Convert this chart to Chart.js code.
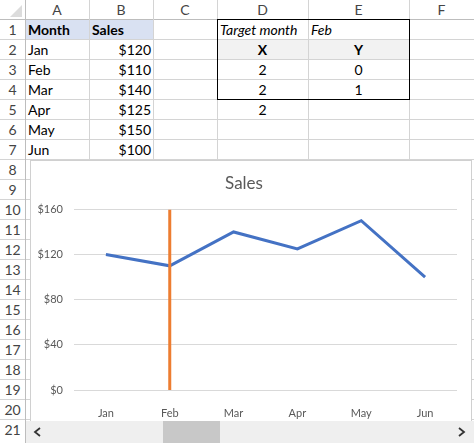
<!DOCTYPE html>
<html>
<head>
<meta charset="utf-8">
<script src="https://cdn.jsdelivr.net/npm/chart.js@4/dist/chart.umd.min.js"></script>
<style>
  html, body { margin: 0; padding: 0; background: #fff; }
  body { width: 474px; height: 443px; position: relative; overflow: hidden; font-family: Lato, "Open Sans", sans-serif; color: #000; }
  .ab { position: absolute; box-sizing: border-box; }
  .hl { position: absolute; height: 1px; background: #d4d4d4; }
  .vl { position: absolute; width: 1px; background: #d4d4d4; }
  .hdr { position: absolute; font-size: 14px; color: #444; text-align: center; line-height: 20px; }
  .cell { position: absolute; font-size: 14px; line-height: 20px; white-space: nowrap; }
  #chartBox { position: absolute; left: 30px; top: 160px; width: 442px; height: 262px; background: #fff;
              border: 1px solid #d0d0d0; border-bottom: none; box-sizing: border-box; }
  #grafico { position: absolute; left: 0; top: 0; }
  #scroll { position: absolute; left: 26px; top: 421px; width: 448px; height: 22px; background: #efefef; }
  #thumb { position: absolute; left: 137px; top: 0; width: 57px; height: 22px; background: #c8c8c8; }
</style>
</head>
<body>
<div id="sheet"></div>
<div id="chartBox"><canvas id="grafico" width="440" height="261"></canvas></div>
<div id="scroll">
  <div id="thumb"></div>
  <svg width="448" height="22" style="position:absolute;left:0;top:0">
    <polyline points="14,7 9,11 14,15" fill="none" stroke="#333" stroke-width="1.8"/>
    <polyline points="433,7 438,11 433,15" fill="none" stroke="#333" stroke-width="1.8"/>
  </svg>
</div>
<script>
// datos de la hoja
const meses = ['Jan', 'Feb', 'Mar', 'Apr', 'May', 'Jun'];
const ventas = [120, 110, 140, 125, 150, 100];
const mesObjetivo = 'Feb';
const objetivoX = [2, 2];
const objetivoY = [0, 1];
const ticksY = [0, 40, 80, 120, 160];

// columnas y filas de la hoja
const colBordes = [25, 89, 153, 217, 308, 409, 474];
const colLetras = ['A', 'B', 'C', 'D', 'E', 'F'];
const altoFila = 20;

const hoja = document.getElementById('sheet');
function div(cls, css, txt) {
    const d = document.createElement('div');
    d.className = cls;
    Object.assign(d.style, css);
    if (txt !== undefined) d.textContent = txt;
    hoja.appendChild(d);
    return d;
}

// rellenos
div('ab', { left: '26px', top: '20px', width: '127px', height: '19px', background: '#d9e1f2' });
div('ab', { left: '218px', top: '40px', width: '191px', height: '19px', background: '#f2f2f2' });

// lineas horizontales
for (let r = 1; r <= 21; r++) {
    div('hl', { left: '0px', width: '474px', top: (r * altoFila - 1) + 'px', background: r === 1 ? '#bdbdbd' : '#d4d4d4' });
}
// lineas verticales
colBordes.forEach((x, i) => {
    div('vl', { left: x + 'px', top: '0px', height: '443px', background: i === 0 ? '#bdbdbd' : '#d4d4d4' });
});
// esquina
div('ab', { left: '10px', top: '5px', width: '0', height: '0', borderLeft: '12px solid transparent', borderBottom: '12px solid #dcdcdc' });

// encabezados
colLetras.forEach((l, i) => {
    div('hdr', { left: colBordes[i] + 'px', width: (colBordes[i + 1] - colBordes[i]) + 'px', top: '0px' }, l);
});
for (let r = 1; r <= 21; r++) {
    div('hdr', { left: '0px', width: '25px', top: (r * altoFila) + 'px' }, String(r));
}

// celdas A:B
div('cell', { left: '28px', top: '20px', fontWeight: 'bold' }, 'Month');
div('cell', { left: '92px', top: '20px', fontWeight: 'bold' }, 'Sales');
meses.forEach((m, i) => {
    div('cell', { left: '28px', top: ((i + 2) * altoFila) + 'px' }, m);
    div('cell', { left: '89px', width: '62px', textAlign: 'right', top: ((i + 2) * altoFila) + 'px' }, '$' + ventas[i]);
});

// tabla objetivo D:E
div('cell', { left: '220px', top: '20px', fontStyle: 'italic' }, 'Target month');
div('cell', { left: '311px', top: '20px', fontStyle: 'italic' }, mesObjetivo);
div('cell', { left: '217px', width: '91px', textAlign: 'center', top: '40px', fontWeight: 'bold' }, 'X');
div('cell', { left: '308px', width: '101px', textAlign: 'center', top: '40px', fontWeight: 'bold' }, 'Y');
objetivoX.forEach((x, i) => {
    div('cell', { left: '217px', width: '91px', textAlign: 'center', top: ((i + 3) * altoFila) + 'px' }, String(x));
    div('cell', { left: '308px', width: '101px', textAlign: 'center', top: ((i + 3) * altoFila) + 'px' }, String(objetivoY[i]));
});
div('cell', { left: '217px', width: '91px', textAlign: 'center', top: '100px' }, String(objetivoX[0]));
div('ab', { left: '217px', top: '19px', width: '193px', height: '81px', border: '1px solid #000' });

// grafico
const grafico = document.getElementById('grafico').getContext('2d');
new Chart(grafico, {
    type: 'line',
    data: {
        labels: meses,
        datasets: [{
            data: objetivoX.map((x, i) => ({ x: x, y: objetivoY[i] })),
            xAxisID: 'x2',
            yAxisID: 'y2',
            borderColor: '#ed7d31',
            borderWidth: 3,
            pointRadius: 0,
            order: 0
        }, {
            data: ventas,
            borderColor: '#4472c4',
            borderWidth: 3,
            pointRadius: 0,
            tension: 0,
            order: 1
        }]
    },
    options: {
        responsive: false,
        animation: false,
        devicePixelRatio: 1,
        layout: { padding: { left: 0, right: 14, top: 0, bottom: 0 } },
        plugins: {
            legend: { display: false },
            tooltip: { enabled: false },
            title: {
                display: true,
                text: 'Sales',
                color: '#595959',
                font: { family: 'Lato', size: 17, weight: 'normal' },
                padding: { top: 12, bottom: 16 }
            }
        },
        scales: {
            x: {
                offset: true,
                grid: { display: false },
                border: { display: false },
                ticks: { color: '#595959', font: { family: 'Lato', size: 11 }, padding: 9 },
                afterFit: s => { s.height = 32; }
            },
            y: {
                min: 0,
                max: 160,
                afterBuildTicks: s => { s.ticks = ticksY.map(v => ({ value: v })); },
                grid: { color: '#d9d9d9', drawTicks: false },
                border: { display: false },
                ticks: { color: '#595959', font: { family: 'Lato', size: 11 }, padding: 11, callback: v => '$' + v },
                afterFit: s => { s.width = 43; }
            },
            x2: { type: 'linear', min: 0.5, max: 6.5, display: false },
            y2: { type: 'linear', min: 0, max: 1, display: false }
        }
    }
});
</script>
</body>
</html>
